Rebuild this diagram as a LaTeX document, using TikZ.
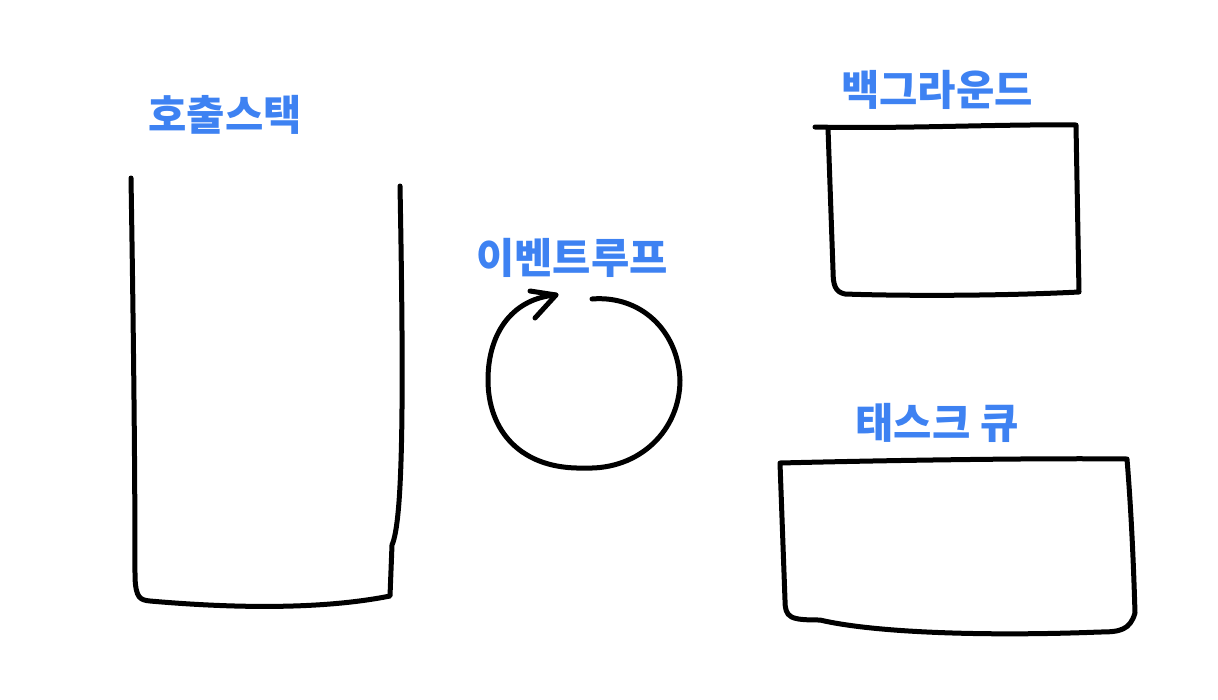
\documentclass[tikz,border=0pt]{standalone}
\usepackage{fontspec}
\newfontfamily\kofont{Noto Sans CJK KR}
\definecolor{penblue}{RGB}{62,130,242}
\tikzset{
  ink/.style={line width=3pt, line cap=round, line join=round},
  hangul/.style={text=penblue, font=\kofont\bfseries\fontsize{25pt}{28pt}\selectfont, inner sep=0pt}
}
\begin{document}
\begin{tikzpicture}[x=0.6pt,y=-0.6pt]
    \useasboundingbox (0,0) rectangle (1218,699);

    % Call stack
    \draw[ink]
        (131,178) .. controls (133,300) and (135,450) .. (135,578)
        .. controls (136,598) and (140,600) .. (150,601)
        .. controls (230,608) and (320,610) .. (390,596)
        -- (392,545) .. controls (403,520) and (404,400) .. (400,186);
    \node[hangul] (stack) at (225,115) {호출스택};

    % Event loop
    \draw[ink]
        (592,299) .. controls (640,295) and (678,330) .. (680,380)
        .. controls (680,430) and (640,470) .. (585,468)
        .. controls (520,470) and (488,430) .. (488,380)
        .. controls (488,330) and (515,298) .. (556,295);
    \draw[ink] (530,291) -- (556,295) -- (535,318);
    \node[hangul] (loop) at (572,258) {이벤트루프};

    % Background
    \draw[ink]
        (815,127) .. controls (900,129) and (1000,124) .. (1076,125)
        -- (1079,292) .. controls (1000,296) and (900,296) .. (845,294)
        .. controls (835,292) and (833,285) .. (833,270)
        -- (828,128);
    \node[hangul] (bg) at (937,90) {백그라운드};

    % Task queue
    \draw[ink]
        (780,463) .. controls (900,460) and (1050,458) .. (1127,459)
        .. controls (1132,520) and (1134,580) .. (1135,613)
        .. controls (1130,630) and (1120,632) .. (1100,632)
        .. controls (1000,636) and (880,634) .. (820,620)
        .. controls (790,620) and (785,618) .. (785,600)
        -- (780,463);
    \node[hangul] (queue) at (937,423) {태스크 큐};
\end{tikzpicture}
\end{document}
